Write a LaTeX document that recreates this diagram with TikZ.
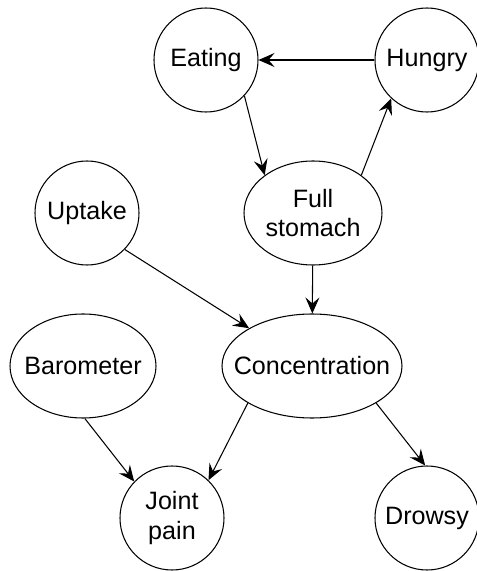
\documentclass[tikz,border=0pt]{standalone}
\usepackage{fontspec}
\setmainfont{Liberation Sans}
\usetikzlibrary{shapes.geometric,arrows.meta}

\begin{document}
\begin{tikzpicture}[
        blob/.style={circle, draw, line width=0.6pt, minimum size=2.08cm, inner sep=0pt, align=center},
        oval/.style={ellipse, draw, line width=0.6pt, minimum height=2.08cm, inner sep=0pt, inner xsep=-4mm, align=center},
        link/.style={-{Stealth[length=3.2mm, width=2.8mm, inset=1.2mm]}, line width=0.6pt},
        font=\fontsize{14.3}{17}\selectfont]

        \useasboundingbox (0,0) rectangle (9.54,11.42);

        \node[blob] (eating) at (4.12,10.22) {Eating};
        \node[blob] (hungry) at (8.54,10.22) {Hungry};

        \node[blob] (uptake) at (1.74,7.16) {Uptake};
        \node[oval, minimum width=2.76cm] (full) at (6.26,7.16) {Full\\stomach};

        \node[oval, minimum width=2.92cm] (baro) at (1.66,4.10) {Barometer};
        \node[oval, minimum width=3.6cm] (conc) at (6.24,4.10) {Concentration};

        \node[blob] (joint) at (3.44,1.06) {Joint\\pain};
        \node[blob] (drowsy) at (8.54,1.06) {Drowsy};

        \draw[link] (hungry) -- (eating);
        \draw[link] (eating.-43) -- (full.142);
        \draw[link] (full.38) -- (hungry.-133);
        \draw[link] (uptake.-44) -- (conc.149);
        \draw[link] (full) -- (conc);
        \draw[link] (baro.-88) -- (joint.136);
        \draw[link] (conc.210) -- (joint.46);
        \draw[link] (conc.-30) -- (drowsy.92);
    \end{tikzpicture}
\end{document}
